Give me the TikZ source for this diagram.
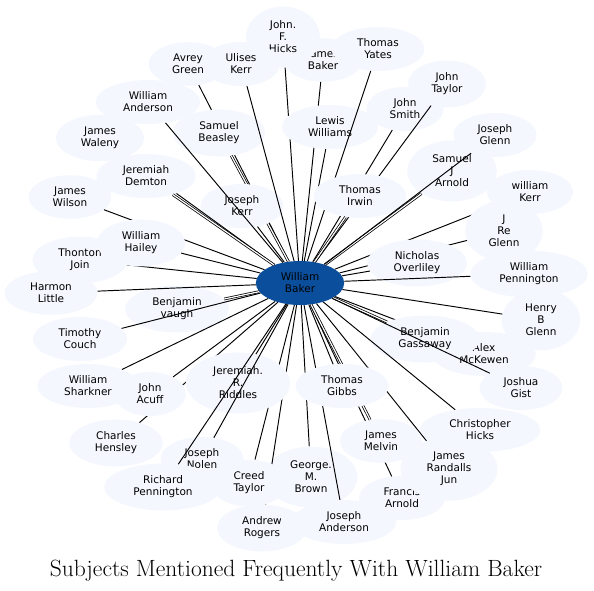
\documentclass[tikz,border=0pt]{standalone}
\usepackage{fontspec}
\usepackage{tikz}
\usetikzlibrary{shapes.geometric}

\newfontfamily\namefont{DejaVu Sans}
\definecolor{personfill}{HTML}{F4F7FE}
\definecolor{hubfill}{HTML}{0B4F9C}

\tikzset{
  person/.style={ellipse, fill=personfill, align=center, inner xsep=12pt, inner ysep=5.5pt,
    font=\namefont\fontsize{10.5}{12}\selectfont},
  hub/.style={person, fill=hubfill},
  link/.style={line width=0.95pt},
  dlink/.style={line width=0.75pt, double=white, double distance=1.2pt}
}

\begin{document}
\begin{tikzpicture}[x=1pt,y=-1pt]
            \useasboundingbox (0,0) rectangle (594,590);
            % Hub
            \node[hub] (wb) at (300,283) {William\\Baker};

            % Top
            \node[person] (jbaker) at (323,60) {James\\Baker};
            \draw[link] (wb) -- (jbaker);
            \node[person] (jhicks) at (283,37) {John.\\F.\\Hicks};
            \draw[link] (wb) -- (jhicks);
            \node[person] (agreen) at (188,64) {Avrey\\Green};
            \draw[link] (wb) -- (agreen);
            \node[person] (sbeasley) at (219,133) {Samuel\\Beasley};
            \draw[dlink] (wb) -- (sbeasley);
            \node[person] (jkerr) at (242,206) {Joseph\\Kerr};
            \draw[link] (wb) -- (jkerr);
            \node[person] (ukerr) at (241,64) {Ulises\\Kerr};
            \draw[link] (wb) -- (ukerr);
            \node[person] (wanderson) at (148,102) {William\\Anderson};
            \draw[link] (wb) -- (wanderson);
            \node[person] (lwilliams) at (330,127) {Lewis\\Williams};
            \draw[link] (wb) -- (lwilliams);
            \node[person] (tyates) at (378,49) {Thomas\\Yates};
            \draw[link] (wb) -- (tyates);

            % Upper right
            \node[person] (jsmith) at (405,109) {John\\Smith};
            \draw[link] (wb) -- (jsmith);
            \node[person] (jtaylor) at (447,84) {John\\Taylor};
            \draw[link] (wb) -- (jtaylor);
            \node[person] (sjarnold) at (452,171) {Samuel\\J\\Arnold};
            \draw[dlink] (wb) -- (sjarnold);
            \node[person] (tirwin) at (360,196) {Thomas\\Irwin};
            \draw[dlink] (wb) -- (tirwin);
            \node[person] (jglenn) at (495,135) {Joseph\\Glenn};
            \draw[link] (wb) -- (jglenn);
            \node[person] (wkerr) at (530,192) {william\\Kerr};
            \draw[link] (wb) -- (wkerr);
            \node[person] (jreglenn) at (504,231) {J\\Re\\Glenn};
            \draw[link] (wb) -- (jreglenn);
            \node[person] (noverliley) at (417,263) {Nicholas\\Overliley};
            \draw[link] (wb) -- (noverliley);
            \node[person] (wpennington) at (529,274) {William\\Pennington};
            \draw[link] (wb) -- (wpennington);
            \node[person] (hbglenn) at (541,320) {Henry\\B\\Glenn};
            \draw[link] (wb) -- (hbglenn);

            % Lower right
            \node[person] (amckewen) at (484,354) {Alex\\McKewen};
            \draw[link] (wb) -- (amckewen);
            \node[person] (bgassaway) at (425,339) {Benjamin\\Gassaway};
            \draw[dlink] (wb) -- (bgassaway);
            \node[person] (jgist) at (521,388) {Joshua\\Gist};
            \draw[link] (wb) -- (jgist);
            \node[person] (chicks) at (480,430) {Christopher\\Hicks};
            \draw[link] (wb) -- (chicks);
            \node[person] (farnold) at (402,498) {Francis\\Arnold};
            \draw[link] (wb) -- (farnold);
            \node[person] (jrjun) at (449,469) {James\\Randalls\\Jun};
            \draw[link] (wb) -- (jrjun);
            \node[person] (jmelvin) at (381,441) {James\\Melvin};
            \draw[dlink] (wb) -- (jmelvin);
            \node[person] (gmbrown) at (311,477) {George.\\M.\\Brown};
            \draw[link] (wb) -- (gmbrown);
            \node[person] (janderson) at (344,522) {Joseph\\Anderson};
            \draw[link] (wb) -- (janderson);
            \node[person] (tgibbs) at (342,386) {Thomas\\Gibbs};
            \draw[link] (wb) -- (tgibbs);

            % Lower left
            \node[person] (arogers) at (262,528) {Andrew\\Rogers};
            \draw[link] (wb) -- (arogers);
            \node[person] (ctaylor) at (249,483) {Creed\\Taylor};
            \draw[link] (wb) -- (ctaylor);
            \node[person] (chensley) at (116,443) {Charles\\Hensley};
            \draw[link] (wb) -- (chensley);
            \node[person] (jacuff) at (150,394) {John\\Acuff};
            \draw[link] (wb) -- (jacuff);
            \node[person] (jriddles) at (238,383) {Jeremiah.\\R.\\Riddles};
            \draw[link] (wb) -- (jriddles);
            \node[person] (jnolen) at (202,459) {Joseph\\Nolen};
            \draw[link] (wb) -- (jnolen);
            \node[person] (rpennington) at (163,487) {Richard\\Pennington};
            \draw[link] (wb) -- (rpennington);

            % Left
            \node[person] (bvaugh) at (177,309) {Benjamin\\vaugh};
            \draw[dlink] (wb) -- (bvaugh);
            \node[person] (wsharkner) at (88,386) {William\\Sharkner};
            \draw[link] (wb) -- (wsharkner);
            \node[person] (tcouch) at (80,339) {Timothy\\Couch};
            \draw[link] (wb) -- (tcouch);
            \node[person] (hlittle) at (51,293) {Harmon\\Little};
            \draw[link] (wb) -- (hlittle);
            \node[person] (tjoin) at (80,260) {Thonton\\Join};
            \draw[link] (wb) -- (tjoin);
            \node[person] (jwilson) at (70,197) {James\\Wilson};
            \draw[link] (wb) -- (jwilson);
            \node[person] (whailey) at (141,243) {William\\Hailey};
            \draw[link] (wb) -- (whailey);
            \node[person] (jwaleny) at (100,138) {James\\Waleny};
            \draw[link] (wb) -- (jwaleny);
            \node[person] (jdemton) at (146,176) {Jeremiah\\Demton};
            \draw[dlink] (wb) -- (jdemton);

            % Title
            \node[anchor=base] (title) at (296,576) {\fontsize{23.5}{28}\selectfont Subjects Mentioned Frequently With William Baker};
\end{tikzpicture}
\end{document}
